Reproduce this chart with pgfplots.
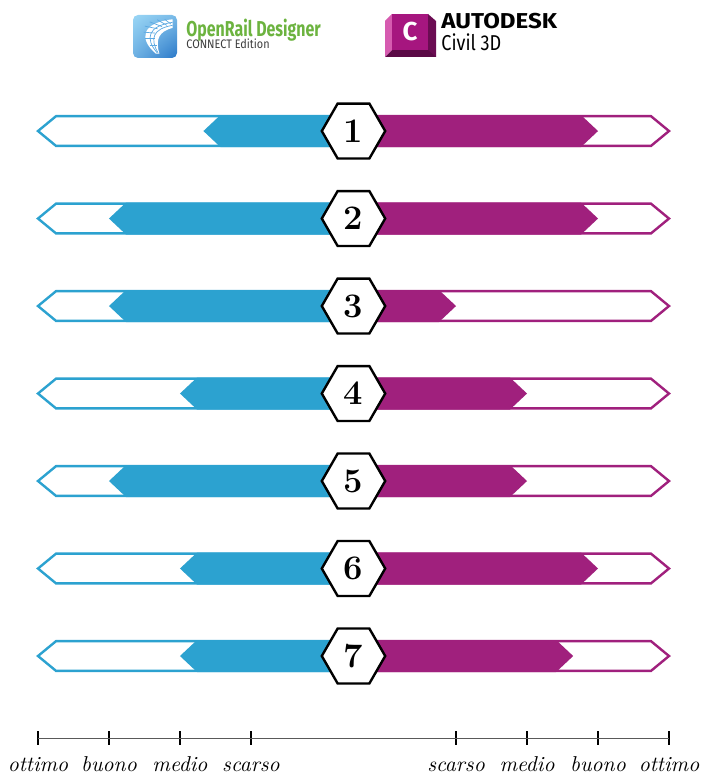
\documentclass[border=0pt]{standalone}
\usepackage{pgfplots}
\pgfplotsset{compat=1.18}
\usepackage{pgfplotstable}
\usepackage{graphicx}
\usetikzlibrary{shadings}
\usepackage{fontspec}
\newfontfamily\fira{Fira Sans}
\definecolor{cblue}{HTML}{2CA2D0}
\definecolor{cpurp}{HTML}{A0207D}
\definecolor{orgreen}{HTML}{6CB33F}
\definecolor{orgray}{HTML}{3C3C3C}
\definecolor{adfront}{HTML}{A6167F}
\definecolor{adlight}{HTML}{D65BB0}
\definecolor{addark}{HTML}{6B0C52}
\definecolor{icolight}{HTML}{9AD6F5}
\definecolor{icodark}{HTML}{2A78C8}
\definecolor{icomid}{HTML}{5CA9E2}

% scores: scarso=1, medio=2, buono=3, ottimo=4
\pgfplotstableread{
row left right
1 1.67 3
2 3 3
3 3 1
4 2 2
5 3 2
6 2 3
7 2 2.65
}\scores

\begin{document}
\begin{tikzpicture}
\useasboundingbox (0,0) rectangle (352bp,388bp);
\begin{axis}[
  at={(19bp,19bp)}, anchor=south west,
  scale only axis, width=315.5bp, height=324bp,
  xmin=-4.444, xmax=4.444, ymin=-7.937, ymax=-0.531,
  clip=false, no markers,
  axis x line*=bottom, axis y line=none,
  x axis line style={black!65, line width=0.5bp},
  xtick={-4.444,-3.444,-2.444,-1.444,1.444,2.444,3.444,4.444},
  xticklabels={ottimo,buono,medio,scarso,scarso,medio,buono,ottimo},
  major tick length=7bp, tick align=center,
  xtick style={black, line width=1.1bp},
  xticklabel style={font=\fontsize{10.8}{13}\selectfont\itshape, anchor=base, yshift=-13.3bp, inner sep=0pt},
]
\pgfplotsinvokeforeach{0,...,6}{
  \pgfplotstablegetelem{#1}{left}\of\scores \let\lv\pgfplotsretval
  \pgfplotstablegetelem{#1}{right}\of\scores \let\rv\pgfplotsretval
  \pgfmathsetmacro\yc{-#1-1}
  \pgfmathsetmacro\yt{\yc+0.183}
  \pgfmathsetmacro\yb{\yc-0.183}
  \pgfmathsetmacro\yto{\yc+0.170}
  \pgfmathsetmacro\ybo{\yc-0.170}
  \pgfmathsetmacro\yht{\yc+0.314}
  \pgfmathsetmacro\yhb{\yc-0.314}
  \pgfmathsetmacro\lt{-(\lv+0.444)}
  \pgfmathsetmacro\lc{\lt+0.24}
  \pgfmathsetmacro\rt{\rv+0.444}
  \pgfmathsetmacro\rc{\rt-0.24}
  % outlines
  \addplot[draw=cblue, line width=1.2bp, fill=white, line join=miter]
    coordinates {(0,\yto) (-4.19,\yto) (-4.444,\yc) (-4.19,\ybo) (0,\ybo)};
  \addplot[draw=cpurp, line width=1.2bp, fill=white, line join=miter]
    coordinates {(0,\yto) (4.19,\yto) (4.444,\yc) (4.19,\ybo) (0,\ybo)};
  % filled scores
  \addplot[draw=none, fill=cblue]
    coordinates {(0,\yt) (\lc,\yt) (\lt,\yc) (\lc,\yb) (0,\yb)} -- cycle;
  \addplot[draw=none, fill=cpurp]
    coordinates {(0,\yt) (\rc,\yt) (\rt,\yc) (\rc,\yb) (0,\yb)} -- cycle;
  % hexagon
  \addplot[draw=black, line width=1.2bp, fill=white, line join=miter]
    coordinates {(-0.4465,\yc) (-0.2233,\yht) (0.2233,\yht) (0.4465,\yc) (0.2233,\yhb) (-0.2233,\yhb) (-0.4465,\yc)} -- cycle;
  \node at (axis cs:0,{-#1-1}) {\LARGE\bfseries\the\numexpr#1+1\relax};
}
\end{axis}

% ---- OpenRail Designer logo ----
\shade[upper left=icolight, upper right=icolight!70!icodark, lower left=icolight!60!icodark, lower right=icodark, rounded corners=2.5bp]
  (66.5bp,359bp) rectangle (88.5bp,380.5bp);
\begin{scope}[shift={(66.5bp,359bp)}, x=22bp, y=21.5bp]
  \fill[white] (0.52,0.1) .. controls (0.12,0.45) and (0.2,0.82) .. (0.9,0.9)
     -- (0.9,0.7) .. controls (0.6,0.62) and (0.5,0.45) .. (0.6,0.1) -- cycle;
  \begin{scope}[icomid, line width=0.35bp]
    \draw (0.55,0.12) .. controls (0.27,0.45) and (0.33,0.74) .. (0.9,0.83);
    \draw (0.57,0.12) .. controls (0.38,0.45) and (0.45,0.68) .. (0.9,0.76);
    \foreach \a/\b/\c/\d in {0.38/0.3/0.55/0.3, 0.28/0.45/0.5/0.45, 0.24/0.6/0.5/0.58, 0.27/0.74/0.56/0.68, 0.38/0.84/0.66/0.73, 0.55/0.89/0.77/0.76, 0.72/0.9/0.86/0.79}
      \draw (\a,\b) -- (\c,\d);
  \end{scope}
\end{scope}
\node[anchor=base west, inner sep=0pt, text=orgreen] at (93bp,369.5bp)
  {\scalebox{0.74}[1]{\fira\bfseries\fontsize{10.8}{12}\selectfont OpenRail Designer}};
\node[anchor=base west, inner sep=0pt, text=orgray] at (93bp,363.5bp)
  {\scalebox{0.88}[1]{\fira\fontsize{6.2}{7}\selectfont CONNECT Edition}};

% ---- Autodesk Civil 3D logo ----
\fill[addark] (196bp,363bp) -- (214bp,363bp) -- (214bp,381bp) -- (218bp,377.5bp) -- (218bp,359.5bp) -- (196bp,359.5bp) -- cycle;
\fill[addark!85!black] (192.5bp,359.5bp) -- (196bp,363bp) -- (214bp,363bp) -- (218bp,359.5bp) -- cycle;
\fill[adlight] (192.5bp,377.5bp) -- (196bp,381bp) -- (196bp,363bp) -- (192.5bp,359.5bp) -- cycle;
\fill[adfront] (196bp,363bp) rectangle (214bp,381bp);
\node[text=white, inner sep=0pt] at (205bp,372bp) {\fira\bfseries\fontsize{13}{14}\selectfont C};
\node[anchor=base west, inner sep=0pt] at (220.5bp,373.5bp)
  {\scalebox{1.12}[1]{\fira\bfseries\fontsize{10.8}{12}\selectfont AUTODESK}};
\node[anchor=base west, inner sep=0pt] at (220.5bp,362.5bp)
  {\scalebox{0.84}[1]{\fira\fontsize{10.8}{12}\selectfont Civil 3D}};
\end{tikzpicture}
\end{document}
